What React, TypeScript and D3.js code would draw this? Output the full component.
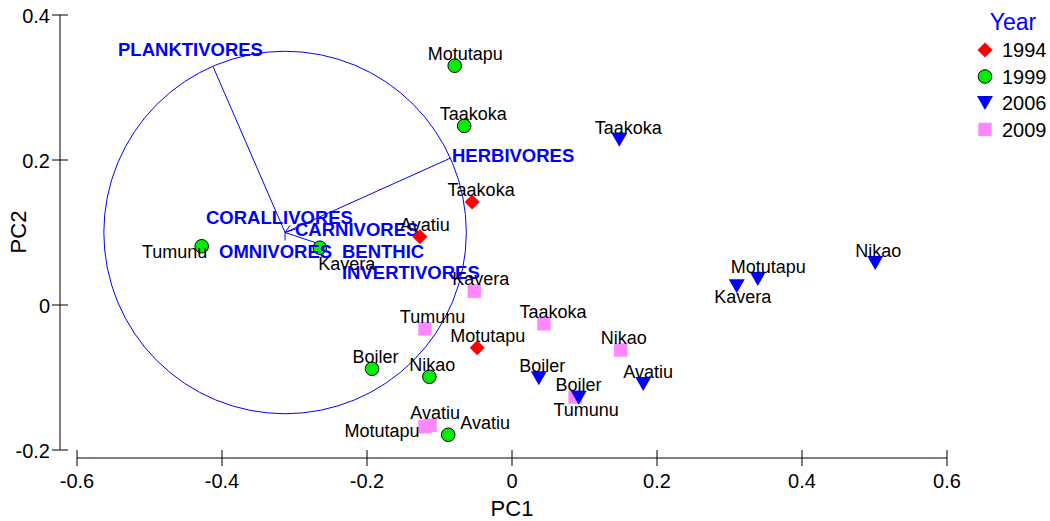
import React from "react";
import * as d3 from "d3";

// PCA scores by survey year
const years = ["1994", "1999", "2006", "2009"];

const sites1994 = ["Taakoka", "Avatiu", "Motutapu"];
const pc1_1994 = [-0.055, -0.127, -0.048];
const pc2_1994 = [0.142, 0.094, -0.059];

const sites1999 = ["Motutapu", "Taakoka", "Tumunu", "Kavera", "Boiler", "Nikao", "Avatiu"];
const pc1_1999 = [-0.079, -0.066, -0.428, -0.265, -0.193, -0.114, -0.088];
const pc2_1999 = [0.33, 0.247, 0.081, 0.079, -0.088, -0.099, -0.179];

const sites2006 = ["Taakoka", "Motutapu", "Kavera", "Nikao", "Boiler", "Tumunu", "Avatiu"];
const pc1_2006 = [0.148, 0.339, 0.31, 0.501, 0.037, 0.092, 0.181];
const pc2_2006 = [0.228, 0.036, 0.026, 0.058, -0.101, -0.128, -0.109];

const sites2009 = ["Kavera", "Tumunu", "Taakoka", "Nikao", "Boiler", "Motutapu", "Avatiu"];
const pc1_2009 = [-0.052, -0.12, 0.044, 0.15, 0.087, -0.12, -0.113];
const pc2_2009 = [0.019, -0.033, -0.026, -0.062, -0.127, -0.168, -0.166];

// Trophic guild loadings (drawn from the centre of the correlation circle)
const guilds = ["PLANKTIVORES", "HERBIVORES", "CORALLIVORES", "CARNIVORES", "OMNIVORES", "BENTHIC INVERTIVORES"];
const loadPC1 = [-0.099, 0.229, 0.007, 0.018, 0.0, 0.042];
const loadPC2 = [0.228, 0.103, 0.01, 0.006, -0.011, -0.014];
const guildLabelPC1 = [-0.5434, -0.0828, -0.4221, -0.2993, -0.4041, -0.2345];
const guildLabelPC2 = [0.3434, 0.1972, 0.1117, 0.0952, 0.0648, 0.0648];

const circleCenter = [-0.313, 0.1];
const circleRadius = 0.25;

const xTicks = [-0.6, -0.4, -0.2, 0, 0.2, 0.4, 0.6];
const yTicks = [-0.2, 0, 0.2, 0.4];

// ---- layout / style ----
const W = 1050;
const H = 521;
const FONT = "'Liberation Sans', Arial, Helvetica, sans-serif";
const BLUE = "#0000ff";
const colors: Record<string, string> = {
  "1994": "#ff0000",
  "1999": "#00ee00",
  "2006": "#0000ff",
  "2009": "#ff88ff",
};

// label placement around each point: [dx of text centre, dy of baseline]
const siteLabelShift: Record<string, [number, number]> = {
  Motutapu: [10.5, -6],
  Taakoka: [9, -6],
  Kavera: [6.5, -6],
  Tumunu: [7.5, -6],
  Avatiu: [5, -6],
  Nikao: [3, -6],
  Boiler: [3.5, -6],
};
const labelOverrides: Record<string, [number, number]> = {
  "1999-Tumunu": [-27, 12],
  "1999-Kavera": [27, 22],
  "1999-Avatiu": [37, -6],
  "2006-Tumunu": [7.5, 18],
  "2006-Kavera": [6, 17],
  "2009-Motutapu": [-43, 10],
};

const x = d3.scaleLinear().domain([-0.6, 0.6]).range([77, 947]);
const y = d3.scaleLinear().domain([-0.2, 0.4]).range([450, 15]);

type Pt = { year: string; site: string; pc1: number; pc2: number };

const byYear: Record<string, [string[], number[], number[]]> = {
  "1994": [sites1994, pc1_1994, pc2_1994],
  "1999": [sites1999, pc1_1999, pc2_1999],
  "2006": [sites2006, pc1_2006, pc2_2006],
  "2009": [sites2009, pc1_2009, pc2_2009],
};

const pointsOf = (yr: string): Pt[] => {
  const [s, a, b] = byYear[yr];
  return s.map((site, i) => ({ year: yr, site, pc1: a[i], pc2: b[i] }));
};
const points: Pt[] = years.flatMap(pointsOf);

function Marker({ year, cx, cy }: { year: string; cx: number; cy: number }) {
  const c = colors[year];
  if (year === "1994") {
    const r = 7.5;
    return <path d={`M${cx},${cy - r}L${cx + r},${cy}L${cx},${cy + r}L${cx - r},${cy}Z`} fill={c} />;
  }
  if (year === "1999") {
    return <circle cx={cx} cy={cy} r={6.8} fill={c} stroke="#000" strokeWidth={1} />;
  }
  if (year === "2006") {
    return <path d={`M${cx - 8},${cy - 7}L${cx + 8},${cy - 7}L${cx},${cy + 7}Z`} fill={c} />;
  }
  return <rect x={cx - 6.7} y={cy - 6.7} width={13.4} height={13.4} fill={c} />;
}

const fmt = (t: number) => (t === 0 ? "0" : d3.format(".1f")(t).replace("−", "-"));

export default function App() {
  const cx0 = x(circleCenter[0]);
  const cy0 = y(circleCenter[1]);
  const rPx = x(circleRadius) - x(0);

  const markers = (yrs: string[]) =>
    yrs.flatMap(pointsOf).map((p) => (
      <Marker key={`m${p.year}${p.site}`} year={p.year} cx={x(p.pc1)} cy={y(p.pc2)} />
    ));

  return (
    <svg
      width={W}
      height={H}
      style={{ position: "absolute", left: 0, top: 0, background: "#fff" }}
      fontFamily={FONT}
    >
      {/* axes */}
      <line x1={x(-0.6)} x2={x(0.6)} y1={458} y2={458} stroke="#808080" strokeWidth={2} />
      {xTicks.map((t) => (
        <g key={`xt${t}`}>
          <line x1={x(t)} x2={x(t)} y1={450} y2={466} stroke="#000" strokeWidth={1} />
          <text x={x(t)} y={488} textAnchor="middle" fontSize={20} fill="#000">
            {fmt(t)}
          </text>
        </g>
      ))}
      <line x1={60} x2={60} y1={y(0.4)} y2={y(-0.2)} stroke="#808080" strokeWidth={2} />
      {yTicks.map((t) => (
        <g key={`yt${t}`}>
          <line x1={52} x2={68} y1={y(t)} y2={y(t)} stroke="#000" strokeWidth={1} />
          <text x={50} y={y(t) + 7.5} textAnchor="end" fontSize={20} fill="#000">
            {fmt(t)}
          </text>
        </g>
      ))}
      <text x={512} y={516} textAnchor="middle" fontSize={22} fill="#000">PC1</text>
      <text transform={`translate(26,232) rotate(-90)`} textAnchor="middle" fontSize={22} fill="#000">PC2</text>

      {/* correlation circle and guild vectors */}
      <circle cx={cx0} cy={cy0} r={rPx} fill="none" stroke={BLUE} strokeWidth={1} />
      {guilds.map((g, i) => (
        <line
          key={`v${g}`}
          x1={cx0}
          y1={cy0}
          x2={x(circleCenter[0] + loadPC1[i])}
          y2={y(circleCenter[1] + loadPC2[i])}
          stroke={BLUE}
          strokeWidth={1}
        />
      ))}

      {/* site scores, first group */}
      {markers(["2009", "1999"])}

      {/* guild labels */}
      {guilds.map((g, i) => {
        const words = g === "BENTHIC INVERTIVORES" ? ["BENTHIC", "INVERTIVORES"] : [g];
        return (
          <text
            key={`gl${g}`}
            x={x(guildLabelPC1[i])}
            y={y(guildLabelPC2[i])}
            fontSize={18.5}
            fontWeight="bold"
            fill={BLUE}
          >
            {words.map((w, k) => (
              <tspan key={w} x={x(guildLabelPC1[i])} dy={k === 0 ? 0 : 21}>
                {w}
              </tspan>
            ))}
          </text>
        );
      })}

      {/* site scores, second group */}
      {markers(["1994", "2006"])}

      {/* site labels */}
      {points.map((p) => {
        const shift = labelOverrides[`${p.year}-${p.site}`] ?? siteLabelShift[p.site];
        return (
          <text
            key={`l${p.year}${p.site}`}
            x={x(p.pc1) + shift[0]}
            y={y(p.pc2) + shift[1]}
            textAnchor="middle"
            fontSize={18}
            fill="#000"
          >
            {p.site}
          </text>
        );
      })}

      {/* legend */}
      <text x={1013} y={30} textAnchor="middle" fontSize={23} fill={BLUE}>Year</text>
      {years.map((yr, i) => (
        <g key={`lg${yr}`}>
          <Marker year={yr} cx={985} cy={50 + 26.5 * i} />
          <text x={1002} y={57 + 26.5 * i} fontSize={20} fill="#000">{yr}</text>
        </g>
      ))}
    </svg>
  );
}
